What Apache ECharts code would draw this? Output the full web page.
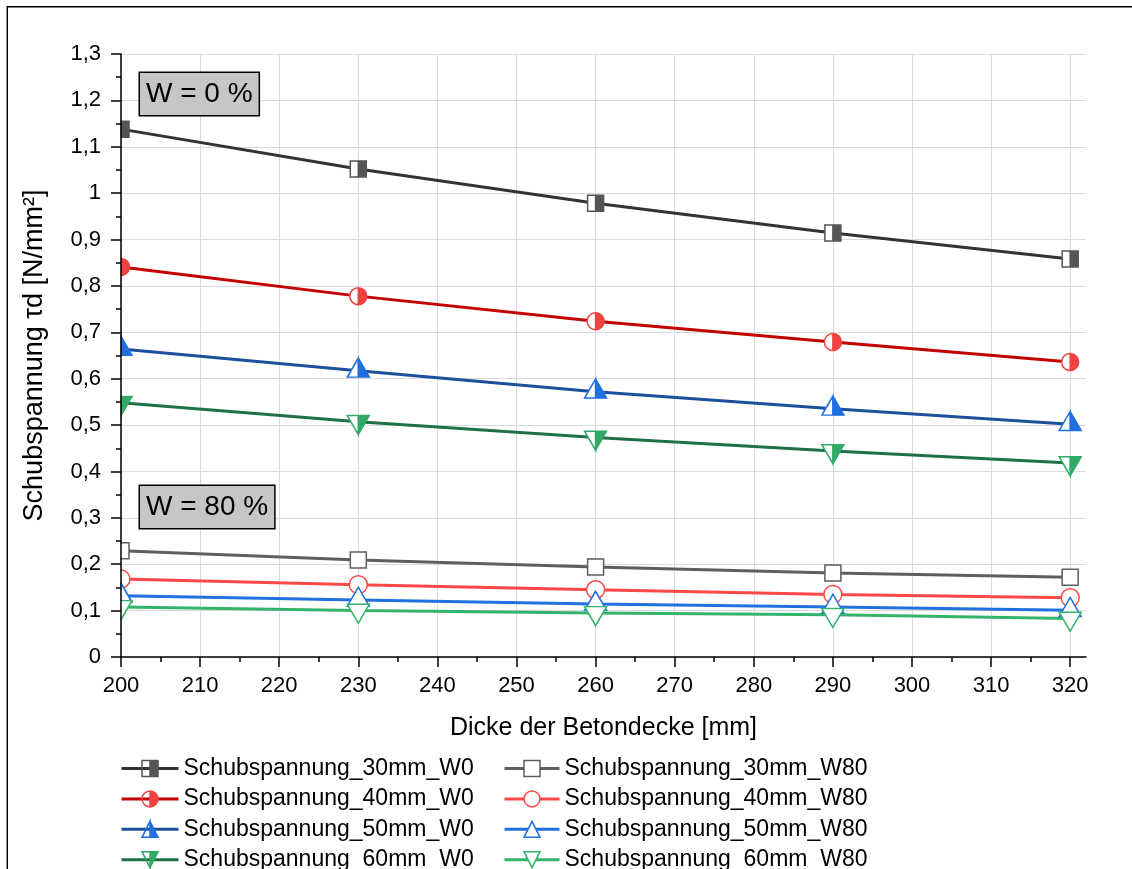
<!DOCTYPE html>
<html>
<head>
<meta charset="utf-8">
<script src="https://cdn.jsdelivr.net/npm/echarts@6/dist/echarts.min.js"></script>
<style>html,body{margin:0;padding:0;background:#fff}#c{width:1132px;height:869px}</style>
</head>
<body>
<div id="c"></div>
<script>
// ---- data ----
const xValues = [200, 230, 260, 290, 320];
const xTickValues = [200, 210, 220, 230, 240, 250, 260, 270, 280, 290, 300, 310, 320];
const yTickLabels = ['0', '0,1', '0,2', '0,3', '0,4', '0,5', '0,6', '0,7', '0,8', '0,9', '1', '1,1', '1,2', '1,3'];

const namesW0 = ['Schubspannung_30mm_W0', 'Schubspannung_40mm_W0', 'Schubspannung_50mm_W0', 'Schubspannung_60mm_W0'];
const namesW80 = ['Schubspannung_30mm_W80', 'Schubspannung_40mm_W80', 'Schubspannung_50mm_W80', 'Schubspannung_60mm_W80'];

const tau30W0 = [1.138, 1.052, 0.978, 0.914, 0.858];
const tau40W0 = [0.841, 0.778, 0.724, 0.679, 0.636];
const tau50W0 = [0.664, 0.617, 0.572, 0.535, 0.502];
const tau60W0 = [0.548, 0.507, 0.473, 0.444, 0.418];

const tau30W80 = [0.229, 0.209, 0.194, 0.181, 0.172];
const tau40W80 = [0.168, 0.156, 0.145, 0.135, 0.128];
const tau50W80 = [0.132, 0.123, 0.114, 0.108, 0.101];
const tau60W80 = [0.108, 0.100, 0.095, 0.091, 0.083];

const annotW0 = 'W = 0 %';
const annotW80 = 'W = 80 %';

// ---- styles ----
const FONT = '"Liberation Sans", Arial, Helvetica, sans-serif';
const SHAPES = {
  square: { half: 'path://M0,0L100,0L100,100L0,100ZM0,0L0,100L50,100L50,0Z', full: 'rect', size: [16, 16], off: [0, 0] },
  circle: { half: 'path://M50,0A50,50,0,1,1,50,100A50,50,0,1,1,50,0ZM50,0A50,50,0,0,0,50,100Z', full: 'circle', size: [17, 17], off: [0, 0] },
  up:     { half: 'path://M50,0L100,100L0,100ZM50,0L0,100L50,100Z', full: 'triangle', size: [22, 19], off: [0, -3.2] },
  down:   { half: 'path://M0,0L100,0L50,100ZM0,0L50,100L50,0Z', full: 'path://M0,0L100,0L50,100Z', size: [22, 19], off: [0, 3.2] }
};
const styleW0 = [
  { line: '#333333', mk: '#555555', shape: 'square' },
  { line: '#c40000', mk: '#f04242', shape: 'circle' },
  { line: '#1c4f9c', mk: '#1f6fe0', shape: 'up' },
  { line: '#1e7147', mk: '#30aa66', shape: 'down' }
];
const styleW80 = [
  { c: '#5e5e5e', shape: 'square', size: [16, 16] },
  { c: '#ff4848', shape: 'circle', size: [18, 18] },
  { c: '#2070e0', shape: 'up', size: [22, 19] },
  { c: '#33b46c', shape: 'down', size: [22, 19] }
];

const valsW0 = [tau30W0, tau40W0, tau50W0, tau60W0];
const valsW80 = [tau30W80, tau40W80, tau50W80, tau60W80];
const pairs = (ys) => xValues.map((x, i) => [x, ys[i]]);

const series = [];
namesW0.forEach((name, k) => {
  const st = styleW0[k], sh = SHAPES[st.shape];
  const d = pairs(valsW0[k]);
  series.push({
    name, type: 'line', data: d, symbol: sh.half, symbolSize: sh.size, showSymbol: false,
    lineStyle: { color: st.line, width: 3 },
    itemStyle: { color: st.mk, borderColor: st.mk, borderWidth: 1.5 },
    clip: false, z: 2, silent: true
  });
  series.push({
    name: name + ' (bg)', type: 'scatter', data: d, symbol: sh.full, symbolSize: sh.size, symbolOffset: sh.off,
    itemStyle: { color: '#ffffff', opacity: 1 }, clip: false, z: 3, silent: true
  });
  series.push({
    name: name + ' (mk)', type: 'scatter', data: d, symbol: sh.half, symbolSize: sh.size, symbolOffset: sh.off,
    itemStyle: { color: st.mk, borderColor: st.mk, borderWidth: 1.5, opacity: 1 }, clip: false, z: 4, silent: true
  });
});
namesW80.forEach((name, k) => {
  const st = styleW80[k], sh = SHAPES[st.shape];
  series.push({
    name, type: 'line', data: pairs(valsW80[k]), symbol: sh.full, symbolSize: st.size, symbolOffset: sh.off,
    showSymbol: true, showAllSymbol: true,
    lineStyle: { color: st.c, width: 3 },
    itemStyle: { color: '#ffffff', borderColor: st.c, borderWidth: 1.5, opacity: 1 },
    clip: false, z: 2, silent: true
  });
});

const legendBase = {
  orient: 'vertical', top: 757, height: 200, padding: 0, itemHeight: 20, itemGap: 7.4, selectedMode: false,
  textStyle: { fontSize: 23, color: '#000', fontFamily: FONT, lineHeight: 20 }
};

const axisText = { color: '#000', fontFamily: FONT, fontSize: 22 };
const blackLine = { color: '#000', width: 1.5 };

const option = {
  animation: false,
  backgroundColor: '#ffffff',
  grid: { left: 121, right: 46, top: 54, bottom: 212, containLabel: false, outerBoundsMode: 'none' },
  xAxis: [
    {
      type: 'value', min: 200, max: 322, interval: 10, position: 'bottom', z: 10,
      axisLine: { show: true, onZero: false, lineStyle: blackLine },
      axisTick: { show: true, inside: false, length: 10, lineStyle: blackLine, customValues: xTickValues },
      minorTick: { show: true, splitNumber: 2, length: 5, lineStyle: blackLine },
      axisLabel: Object.assign({ margin: 18, customValues: xTickValues,
        formatter: (v) => (xTickValues.indexOf(v) >= 0 ? String(v) : '') }, axisText),
      splitLine: { show: false },
      name: 'Dicke der Betondecke [mm]', nameLocation: 'middle', nameGap: 59,
      nameTextStyle: { fontSize: 25, color: '#000', fontFamily: FONT }
    },
    {
      type: 'value', min: 200, max: 322, interval: 10, position: 'bottom', z: 0,
      axisLine: { show: false }, axisTick: { show: false }, axisLabel: { show: false },
      splitLine: { show: true, showMaxLine: false, lineStyle: { color: '#dadada', width: 1 } }
    }
  ],
  yAxis: [
    {
      type: 'value', min: 0, max: 1.3, interval: 0.1, position: 'left', z: 10,
      axisLine: { show: true, onZero: false, lineStyle: blackLine },
      axisTick: { show: true, inside: false, length: 10, lineStyle: blackLine },
      minorTick: { show: true, splitNumber: 2, length: 5, lineStyle: blackLine },
      axisLabel: Object.assign({ margin: 20,
        formatter: (v) => { const s = yTickLabels[Math.round(v * 10)]; return s === undefined ? '' : s; } }, axisText),
      splitLine: { show: false },
      name: 'Schubspannung \u03C4d [N/mm\u00B2]', nameLocation: 'middle', nameGap: 73,
      nameTextStyle: { fontSize: 27, color: '#000', fontFamily: FONT }
    },
    {
      type: 'value', min: 0, max: 1.3, interval: 0.1, position: 'left', z: 0,
      axisLine: { show: false }, axisTick: { show: false }, axisLabel: { show: false },
      splitLine: { show: true, lineStyle: { color: '#dadada', width: 1 } }
    }
  ],
  legend: [
    Object.assign({}, legendBase, {
      left: 120, itemWidth: 57,
      data: namesW0.map((n, k) => ({
        name: n,
        itemStyle: { color: styleW0[k].mk, borderColor: styleW0[k].mk, borderWidth: 1.5 },
        lineStyle: { color: styleW0[k].line, width: 3 }
      }))
    }),
    Object.assign({}, legendBase, {
      left: 503, itemWidth: 55,
      data: namesW80.map((n, k) => ({
        name: n,
        itemStyle: { color: '#ffffff', borderColor: styleW80[k].c, borderWidth: 1.5 },
        lineStyle: { color: styleW80[k].c, width: 3 }
      }))
    })
  ],
  graphic: [
    { type: 'rect', z: 5, silent: true, shape: { x: 8.5, y: 30, width: 112, height: 632 }, style: { fill: '#ffffff' } },
    { type: 'rect', z: 30, silent: true, shape: { x: 7.3, y: 6.7, width: 1300, height: 1000 }, style: { fill: 'none', stroke: '#000', lineWidth: 1.4 } },
    { type: 'text', z: 20, x: 140, y: 73, silent: true,
      style: { text: annotW0, fontSize: 28, fontFamily: FONT, fill: '#000', align: 'left', verticalAlign: 'top',
        lineHeight: 28, backgroundColor: '#c6c6c6', borderColor: '#000', borderWidth: 1.5, padding: [7, 6, 7, 6] } },
    { type: 'text', z: 20, x: 140, y: 486, silent: true,
      style: { text: annotW80, fontSize: 28, fontFamily: FONT, fill: '#000', align: 'left', verticalAlign: 'top',
        lineHeight: 28, backgroundColor: '#c6c6c6', borderColor: '#000', borderWidth: 1.5, padding: [7, 6, 7, 6] } }
  ],
  series
};

const chart = echarts.init(document.getElementById('c'), null, { renderer: 'canvas' });
chart.setOption(option);
</script>
</body>
</html>
